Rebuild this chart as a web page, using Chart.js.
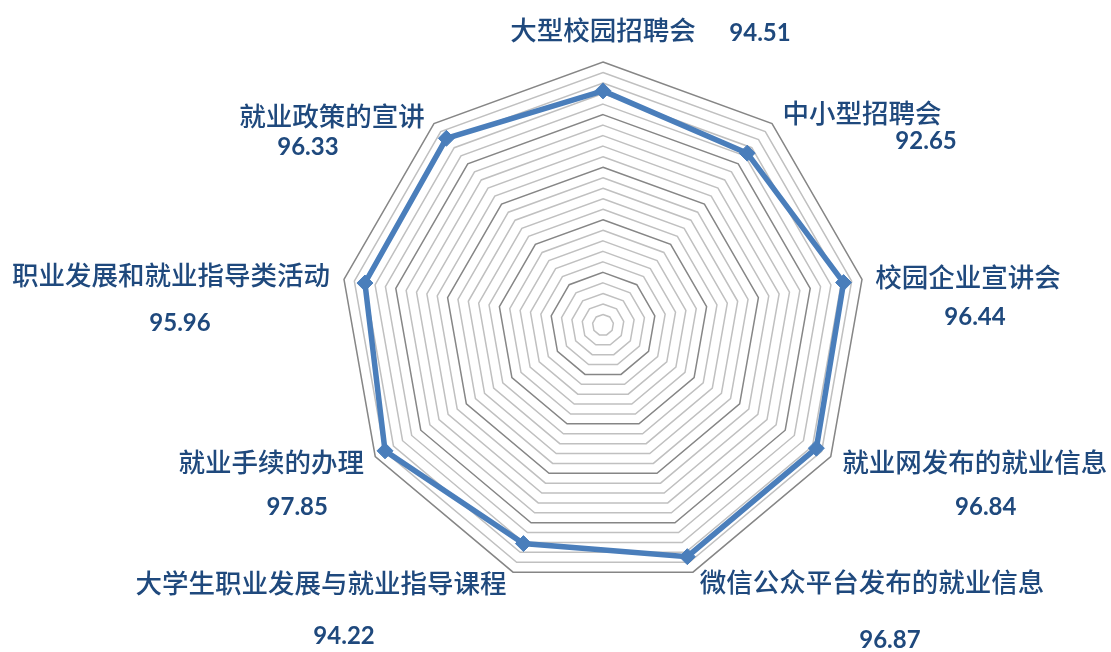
<!DOCTYPE html>
<html>
<head>
<meta charset="utf-8">
<script src="https://cdn.jsdelivr.net/npm/chart.js@4"></script>
<style>
  html, body { margin: 0; padding: 0; background: #fff; }
  #wrap { width: 1111px; height: 652px; position: relative; }
</style>
</head>
<body>
<div id="wrap"><canvas id="radar"></canvas></div>
<script>
// categories and scores
var categories = ["大型校园招聘会", "中小型招聘会", "校园企业宣讲会", "就业网发布的就业信息",
  "微信公众平台发布的就业信息", "大学生职业发展与就业指导课程", "就业手续的办理",
  "职业发展和就业指导类活动", "就业政策的宣讲"];
var scores = [94.51, 92.65, 96.44, 96.84, 96.87, 94.22, 97.85, 95.96, 96.33];

// label offsets from each outer vertex (px)
var nameOffset = [[0,-32],[90,-11],[106,-2],[144,5],[179,10],[-192,11],[-104,5],[-173,-4],[-102,-8]];
var valueOffset = [[157,-29],[154,18],[113,38],[155,51],[197,68],[-169,64],[-78,51],[-164,44],[-126,24]];

var textColor = "#1F497D";

var labelPlugin = {
  id: "radarLabels",
  afterDraw: function(chart) {
    var scale = chart.scales.r;
    var ctx = chart.ctx;
    ctx.save();
    ctx.fillStyle = textColor;
    ctx.textAlign = "center";
    ctx.textBaseline = "middle";
    for (var i = 0; i < categories.length; i++) {
      var p = scale.getPointPosition(i, scale.drawingArea);
      ctx.font = '500 26.5px "Noto Sans CJK SC"';
      ctx.fillText(categories[i], p.x + nameOffset[i][0], p.y + nameOffset[i][1]);
      ctx.font = 'bold 24px Lato';
      ctx.fillText(scores[i].toFixed(2), p.x + valueOffset[i][0], p.y + valueOffset[i][1]);
    }
    ctx.restore();
  }
};

new Chart(document.getElementById("radar"), {
  type: 'radar',
  data: {
    labels: categories,
    datasets: [
      {
        data: scores,
        borderColor: "#4A7EBB",
        backgroundColor: "rgba(0,0,0,0)",
        borderWidth: 5.5,
        fill: false,
        pointStyle: 'rectRot',
        pointRadius: 8,
        pointBackgroundColor: "#4A7EBB",
        pointBorderColor: "#4A7EBB",
        pointBorderWidth: 1
      }
    ]
  },
  options: {
    responsive: true,
    maintainAspectRatio: false,
    animation: false,
    layout: { padding: { top: 62, bottom: 64, left: 95, right: 0 } },
    plugins: {
      legend: { display: false },
      tooltip: { enabled: false }
    },
    scales: {
      r: {
        min: 50,
        max: 100,
        ticks: { display: false, stepSize: 2 },
        pointLabels: { display: false },
        angleLines: { display: false },
        grid: {
          circular: false,
          lineWidth: 1.5,
          color: function(c) { return c.index % 5 === 0 ? "#868686" : "#c0c0c0"; }
        }
      }
    }
  },
  plugins: [labelPlugin]
});
</script>
</body>
</html>
